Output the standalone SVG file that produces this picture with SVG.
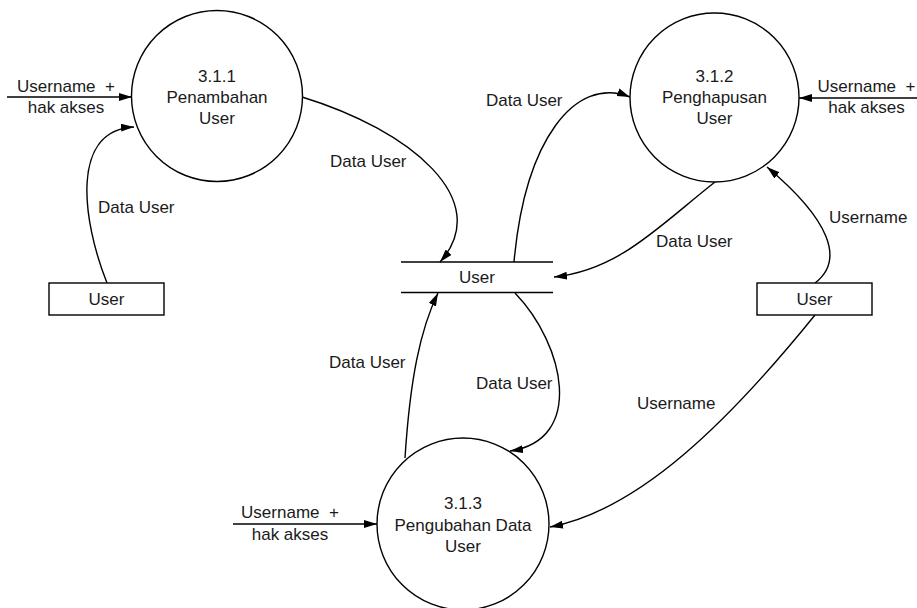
<svg xmlns="http://www.w3.org/2000/svg" width="917" height="608" viewBox="0 0 917 608">
<style>
text{font-family:"Liberation Sans",Arial,sans-serif;font-size:17px;fill:#1a1a1a;white-space:pre}
.c{text-anchor:middle}
.shape{fill:#fff;stroke:#000;stroke-width:1.4}
.line{fill:none;stroke:#000;stroke-width:1.4}
.flow{fill:none;stroke:#000;stroke-width:1.4;marker-end:url(#arr)}
</style>
<defs>
<marker id="arr" markerUnits="userSpaceOnUse" markerWidth="14" markerHeight="9" refX="13" refY="4" orient="auto">
<path d="M0,0 L13,4 L0,8 z" fill="#000"/>
</marker>
</defs>
<rect width="917" height="608" fill="#fff"/>
<g id="connectors">
<path class="flow" d="M7,97 L132,97"/>
<path class="flow" d="M917,98 L799,98"/>
<path class="flow" d="M233,524 L377,524"/>
<path class="flow" d="M107,283 C82,220 70,130 134,127"/>
<path class="flow" d="M302,97 C410,130 495,200 440,262"/>
<path class="flow" d="M514,262 C525,140 575,75 630,97"/>
<path class="flow" d="M715,182 C660,225 620,270 554,277"/>
<path class="flow" d="M815,283 C845,260 830,220 767,167"/>
<path class="flow" d="M405,458 C410,380 420,330 438,293"/>
<path class="flow" d="M515,293 C565,345 585,440 510,451"/>
<path class="flow" d="M815,315 C730,420 640,510 550,527"/>
<text x="66" y="92" class="c">Username  +</text>
<text x="66" y="112.5" class="c">hak akses</text>
<text x="866.5" y="92" class="c">Username  +</text>
<text x="866.5" y="112.5" class="c">hak akses</text>
<text x="290" y="518" class="c">Username  +</text>
<text x="290" y="540" class="c">hak akses</text>
<text x="98" y="213">Data User</text>
<text x="330" y="167">Data User</text>
<text x="486" y="106">Data User</text>
<text x="656" y="247">Data User</text>
<text x="829" y="223">Username</text>
<text x="329" y="368">Data User</text>
<text x="476" y="389">Data User</text>
<text x="637" y="409">Username</text>
</g>
<g id="p311">
<circle class="shape" cx="217" cy="96" r="85.5"/>
<text x="217" y="81.5" class="c">3.1.1</text>
<text x="217" y="102.5" class="c">Penambahan</text>
<text x="217" y="123.5" class="c">User</text>
</g>
<g id="p312">
<circle class="shape" cx="714.5" cy="97.5" r="84.5"/>
<text x="714.5" y="81.5" class="c">3.1.2</text>
<text x="714.5" y="102.5" class="c">Penghapusan</text>
<text x="714.5" y="123.5" class="c">User</text>
</g>
<g id="p313">
<circle class="shape" cx="463" cy="524" r="86"/>
<text x="463" y="509" class="c">3.1.3</text>
<text x="463" y="530.5" class="c">Pengubahan Data</text>
<text x="463" y="552" class="c">User</text>
</g>
<g id="store">
<line class="line" x1="401" y1="262" x2="553" y2="262"/>
<line class="line" x1="401" y1="292.5" x2="553" y2="292.5"/>
<text x="477" y="283" class="c">User</text>
</g>
<g id="userLeft">
<rect class="shape" x="49" y="283" width="115" height="32"/>
<text x="106.5" y="304.5" class="c">User</text>
</g>
<g id="userRight">
<rect class="shape" x="757" y="283" width="115" height="32"/>
<text x="814.5" y="304.5" class="c">User</text>
</g>
</svg>
